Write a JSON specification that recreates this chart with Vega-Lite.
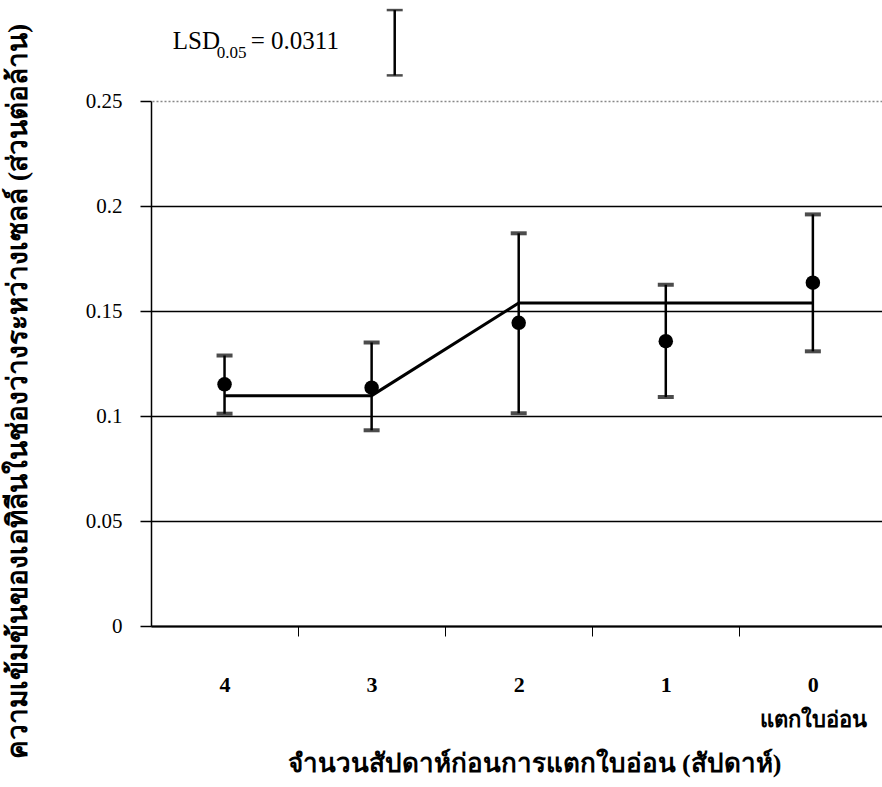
{
  "$schema": "https://vega.github.io/schema/vega-lite/v6.json",
  "width": 731,
  "height": 525,
  "autosize": "none",
  "padding": {"left": 151, "top": 101, "right": 0, "bottom": 161},
  "background": "white",
  "config": {
    "view": {"stroke": null},
    "font": "'Liberation Serif', 'Times New Roman', serif"
  },
  "datasets": {
    "obs": [
      {"week": 4, "mean": 0.1151, "lo": 0.1011, "hi": 0.1288},
      {"week": 3, "mean": 0.1135, "lo": 0.0932, "hi": 0.1350},
      {"week": 2, "mean": 0.1444, "lo": 0.1013, "hi": 0.1870},
      {"week": 1, "mean": 0.1356, "lo": 0.1090, "hi": 0.1625},
      {"week": 0, "mean": 0.1635, "lo": 0.1308, "hi": 0.1960}
    ],
    "fit": [
      {"week": 4, "fit": 0.1097},
      {"week": 3, "fit": 0.1097},
      {"week": 2, "fit": 0.1538},
      {"week": 0, "fit": 0.1538}
    ],
    "lsd": [
      {"week": 2.843, "lo": 0.2622, "hi": 0.2933, "lsd": 0.0311}
    ]
  },
  "layer": [
    {
      "data": {"name": "obs"},
      "mark": {"type": "errorbar", "color": "black", "ticks": {"size": 16, "thickness": 4, "color": "black"}, "rule": {"strokeWidth": 2.5}},
      "encoding": {
        "x": {
          "field": "week", "type": "quantitative",
          "title": "จำนวนสัปดาห์ก่อนการแตกใบอ่อน (สัปดาห์)",
          "scale": {"domain": [-0.47, 4.5], "reverse": true, "nice": false, "zero": false},
          "axis": {
            "values": [0, 0.5, 1, 1.5, 2, 2.5, 3, 3.5, 4],
            "grid": false,
            "domainColor": "black",
            "domainWidth": 2,
            "tickColor": "black",
            "tickWidth": 1,
            "tickSize": 10,
            "tickOpacity": {"condition": {"test": "datum.value % 1 == 0", "value": 0}, "value": 1},
            "labelExpr": "datum.value % 1 != 0 ? '' : (datum.value == 0 ? ['0', 'แตกใบอ่อน'] : format(datum.value, 'd'))",
            "labelFont": "'Liberation Serif', 'Times New Roman', serif",
            "labelFontSize": 22,
            "labelFontWeight": "bold",
            "labelColor": "black",
            "labelPadding": 38,
            "labelLineHeight": 35,
            "labelOverlap": false,
            "labelFlush": false,
            "titleFont": "'Liberation Serif', 'Times New Roman', serif",
            "titleFontSize": 26,
            "titleFontWeight": "bold",
            "titleColor": "black",
            "titleX": 383,
            "titleY": 137,
            "titleBaseline": "middle",
            "titleAnchor": "middle",
            "titleAlign": "center"
          }
        },
        "y": {
          "field": "lo", "type": "quantitative",
          "title": "ความเข้มข้นของเอทิลีนในช่องว่างระหว่างเซลล์ (ส่วนต่อล้าน)",
          "scale": {"domain": [0, 0.25], "nice": false, "zero": true},
          "axis": {
            "values": [0, 0.05, 0.1, 0.15, 0.2, 0.25],
            "labelExpr": "datum.value == 0 ? '0' : format(datum.value, '.2~f')",
            "grid": true,
            "gridColor": {"condition": {"test": "datum.value == 0.25", "value": "#888888"}, "value": "black"},
            "gridDash": {"condition": {"test": "datum.value == 0.25", "value": [2, 2]}, "value": []},
            "gridWidth": 1.3,
            "domainColor": "black",
            "domainWidth": 1.5,
            "tickColor": "black",
            "tickWidth": 1.5,
            "tickSize": 11,
            "labelFont": "'Liberation Serif', 'Times New Roman', serif",
            "labelFontSize": 21,
            "labelColor": "black",
            "labelPadding": 18,
            "titleFont": "'Liberation Serif', 'Times New Roman', serif",
            "titleFontSize": 28,
            "titleFontWeight": "bold",
            "titleColor": "black",
            "titleX": -133,
            "titleY": 290,
            "titleAngle": 270,
            "titleBaseline": "middle",
            "titleAlign": "center"
          }
        },
        "y2": {"field": "hi"}
      }
    },
    {
      "data": {"name": "fit"},
      "mark": {"type": "line", "color": "black", "strokeWidth": 3},
      "encoding": {
        "x": {"field": "week", "type": "quantitative", "title": "จำนวนสัปดาห์ก่อนการแตกใบอ่อน (สัปดาห์)"},
        "y": {"field": "fit", "type": "quantitative", "title": "ความเข้มข้นของเอทิลีนในช่องว่างระหว่างเซลล์ (ส่วนต่อล้าน)"}
      }
    },
    {
      "data": {"name": "obs"},
      "mark": {"type": "circle", "color": "black", "opacity": 1, "size": 210},
      "encoding": {
        "x": {"field": "week", "type": "quantitative", "title": "จำนวนสัปดาห์ก่อนการแตกใบอ่อน (สัปดาห์)"},
        "y": {"field": "mean", "type": "quantitative", "title": "ความเข้มข้นของเอทิลีนในช่องว่างระหว่างเซลล์ (ส่วนต่อล้าน)"}
      }
    },
    {
      "data": {"name": "lsd"},
      "mark": {"type": "errorbar", "color": "black", "ticks": {"size": 16, "thickness": 2.5, "color": "black"}, "rule": {"strokeWidth": 2.5}},
      "encoding": {
        "x": {"field": "week", "type": "quantitative", "title": "จำนวนสัปดาห์ก่อนการแตกใบอ่อน (สัปดาห์)"},
        "y": {"field": "lo", "type": "quantitative", "title": "ความเข้มข้นของเอทิลีนในช่องว่างระหว่างเซลล์ (ส่วนต่อล้าน)"},
        "y2": {"field": "hi"}
      }
    },
    {
      "data": {"name": "lsd"},
      "mark": {"type": "text", "text": "LSD", "font": "'Liberation Serif', 'Times New Roman', serif", "fontSize": 25, "align": "left", "baseline": "alphabetic", "dx": -222, "dy": 39, "color": "black"},
      "encoding": {
        "x": {"field": "week", "type": "quantitative"},
        "y": {"field": "hi", "type": "quantitative"}
      }
    },
    {
      "data": {"name": "lsd"},
      "mark": {"type": "text", "text": "0.05", "font": "'Liberation Serif', 'Times New Roman', serif", "fontSize": 17, "align": "left", "baseline": "alphabetic", "dx": -178, "dy": 48, "color": "black"},
      "encoding": {
        "x": {"field": "week", "type": "quantitative"},
        "y": {"field": "hi", "type": "quantitative"}
      }
    },
    {
      "data": {"name": "lsd"},
      "mark": {"type": "text", "text": "= 0.0311", "font": "'Liberation Serif', 'Times New Roman', serif", "fontSize": 25, "align": "left", "baseline": "alphabetic", "dx": -144, "dy": 39, "color": "black"},
      "encoding": {
        "x": {"field": "week", "type": "quantitative"},
        "y": {"field": "hi", "type": "quantitative"}
      }
    }
  ]
}
